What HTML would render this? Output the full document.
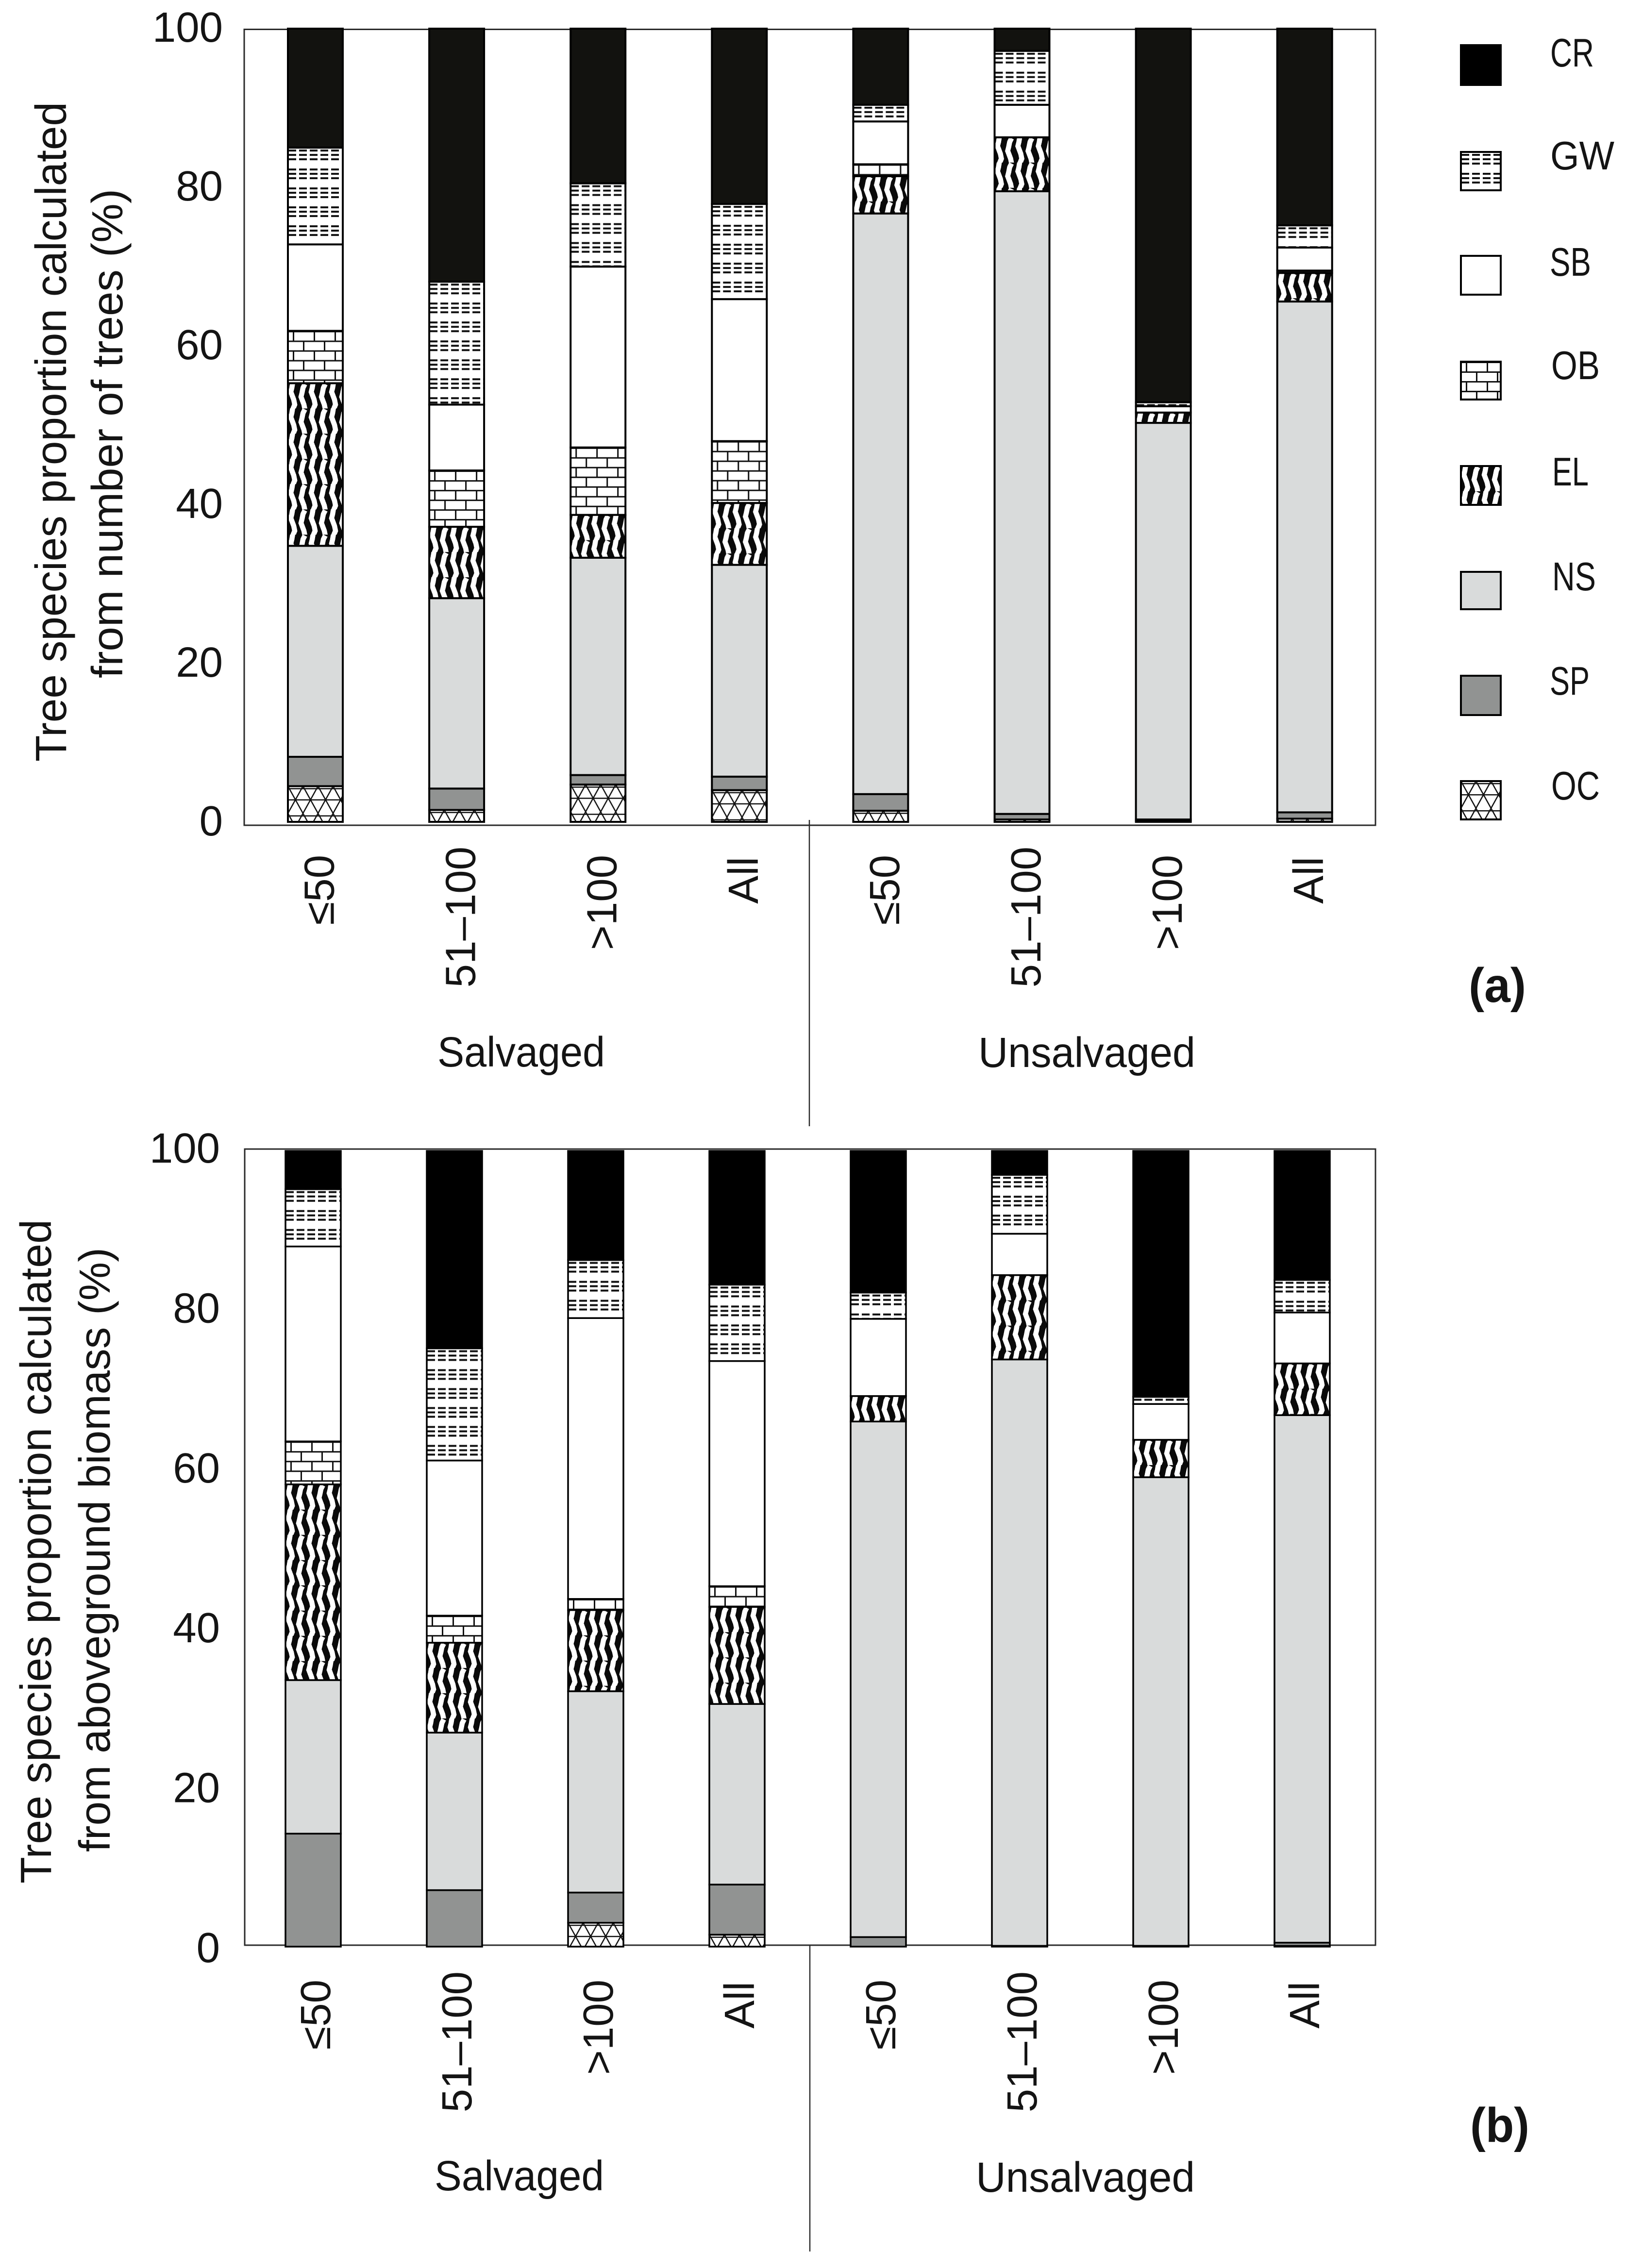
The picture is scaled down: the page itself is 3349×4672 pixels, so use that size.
<!DOCTYPE html>
<html lang="en">
<head>
<meta charset="utf-8">
<title>Tree species proportion charts</title>
<style>
  html, body { margin: 0; padding: 0; background: #fff; }
  svg { display: block; }
  text { font-family: "Liberation Sans", sans-serif; fill: #141414; }
</style>
</head>
<body>
<svg id="figure" xmlns="http://www.w3.org/2000/svg" width="3349" height="4672" viewBox="0 0 3349 4672">
  <defs>
    <pattern id="pat-gw" patternUnits="userSpaceOnUse" width="22" height="39">
      <rect width="22" height="39" fill="#fff"/>
      <rect x="1" y="4" width="16" height="4" fill="#111"/>
      <rect x="1" y="13" width="16" height="4" fill="#111"/>
      <rect x="1" y="22" width="16" height="4" fill="#111"/>
    </pattern>
    <pattern id="pat-ob" patternUnits="userSpaceOnUse" width="43" height="40">
      <rect width="43" height="40" fill="#fff"/>
      <rect x="0" y="0" width="43" height="3" fill="#111"/>
      <rect x="0" y="20" width="43" height="3" fill="#111"/>
      <rect x="10" y="0" width="3" height="20" fill="#111"/>
      <rect x="31" y="20" width="3" height="20" fill="#111"/>
    </pattern>
    <pattern id="pat-el" patternUnits="userSpaceOnUse" width="42" height="52">
      <rect width="42" height="52" fill="#0a0a0a"/>
      <polyline points="10,-2 8,10 6,18 9,26 12,34 14,44 10,54" fill="none" stroke="#fff" stroke-width="10.5" shape-rendering="crispEdges"/>
      <polyline points="35,2 31,10 29,20 27,28 30,36 33,44 35,54" fill="none" stroke="#fff" stroke-width="10.5" shape-rendering="crispEdges"/>
    </pattern>
    <pattern id="pat-oc" patternUnits="userSpaceOnUse" width="31" height="56">
      <rect width="31" height="56" fill="#fff"/>
      <path d="M0,0 L15.5,28 L31,0 M0,56 L15.5,28 L31,56" fill="none" stroke="#111" stroke-width="2.5"/>
      <rect x="0" y="4" width="31" height="2.5" fill="#111"/>
      <rect x="0" y="27" width="31" height="2.5" fill="#111"/>
    </pattern>
  </defs>

  <rect width="3349" height="4672" fill="#ffffff"/>

  <g id="panel-a">
    <rect x="503" y="60.5" width="2330" height="1639.5" fill="none" stroke="#2a2a2a" stroke-width="3"/>
    <line x1="1667" y1="1689" x2="1667" y2="2320" stroke="#2a2a2a" stroke-width="2.5"/>
    <text transform="translate(136 1569) rotate(-90)" font-size="90" textLength="1359" lengthAdjust="spacingAndGlyphs">Tree species proportion calculated</text>
    <text transform="translate(252 1397) rotate(-90)" font-size="90" textLength="1008" lengthAdjust="spacingAndGlyphs">from number of trees (%)</text>
    <text x="901" y="2197" font-size="87" textLength="345" lengthAdjust="spacingAndGlyphs">Salvaged</text>
    <text x="2015" y="2198" font-size="87" textLength="447" lengthAdjust="spacingAndGlyphs">Unsalvaged</text>
    <text x="3025" y="2064" font-size="100" font-weight="700" textLength="118" lengthAdjust="spacingAndGlyphs">(a)</text>
  </g>

  <g id="panel-b">
    <rect x="504" y="2367" width="2329" height="1640" fill="none" stroke="#2a2a2a" stroke-width="3"/>
    <line x1="1668" y1="4007" x2="1668" y2="4638" stroke="#2a2a2a" stroke-width="2.5"/>
    <text transform="translate(105 3880) rotate(-90)" font-size="90" textLength="1368" lengthAdjust="spacingAndGlyphs">Tree species proportion calculated</text>
    <text transform="translate(226 3815) rotate(-90)" font-size="90" textLength="1245" lengthAdjust="spacingAndGlyphs">from aboveground biomass (%)</text>
    <text x="895" y="4512" font-size="87" textLength="349" lengthAdjust="spacingAndGlyphs">Salvaged</text>
    <text x="2010" y="4515" font-size="87" textLength="451" lengthAdjust="spacingAndGlyphs">Unsalvaged</text>
    <text x="3028" y="4412" font-size="100" font-weight="700" textLength="122" lengthAdjust="spacingAndGlyphs">(b)</text>
  </g>

  <g id="legend"></g>
</svg>

<script>
// Shared categories and tick labels
const categories = ["≤50", "51–100", ">100", "All", "≤50", "51–100", ">100", "All"];
const yTicks = [0, 20, 40, 60, 80, 100];
const speciesOrder = ["OC", "SP", "NS", "EL", "OB", "SB", "GW", "CR"];

// Panel (a): share of number of trees (%), bottom to top of stack
const treesOC = [4.5, 1.5, 4.7, 4.0, 1.4, 0.3, 0.1, 0.4];
const treesSP = [3.7, 2.7, 1.2, 1.7, 2.1, 0.7, 0.2, 0.8];
const treesNS = [26.6, 24.0, 27.4, 26.7, 73.2, 78.5, 50.0, 64.4];
const treesEL = [20.5, 9.0, 5.4, 7.8, 4.7, 6.8, 1.3, 3.6];
const treesOB = [6.6, 7.1, 8.5, 7.8, 1.5, 0, 0, 0.3];
const treesSB = [10.9, 8.3, 22.8, 17.9, 5.4, 4.1, 0.8, 2.9];
const treesGW = [12.2, 15.5, 10.5, 12.0, 2.1, 6.8, 0.5, 2.8];
const treesCR = [15.0, 31.9, 19.5, 22.1, 9.6, 2.8, 47.1, 24.8];

// Panel (b): share of aboveground biomass (%), bottom to top of stack
const biomassOC = [0, 0, 3.0, 1.5, 0, 0, 0, 0.1];
const biomassSP = [14.2, 7.1, 3.8, 6.3, 1.2, 0.1, 0.1, 0.4];
const biomassNS = [19.3, 19.8, 25.3, 22.7, 64.8, 73.7, 58.9, 66.3];
const biomassEL = [24.6, 11.3, 10.2, 12.2, 3.2, 10.6, 4.7, 6.5];
const biomassOB = [5.4, 3.4, 1.4, 2.6, 0, 0, 0, 0];
const biomassSB = [24.5, 19.5, 35.3, 28.3, 9.7, 5.2, 4.5, 6.4];
const biomassGW = [7.2, 14.1, 7.3, 9.6, 3.3, 7.4, 0.9, 4.1];
const biomassCR = [4.8, 24.8, 13.7, 16.8, 17.8, 3.0, 30.9, 16.2];

// Legend order, top to bottom
const legendOrder = ["CR", "GW", "SB", "OB", "EL", "NS", "SP", "OC"];

(function () {
  const NS_URI = "http://www.w3.org/2000/svg";
  const fills = {
    OC: "url(#pat-oc)", SP: "#919392", NS: "#d9dbdb", EL: "url(#pat-el)",
    OB: "url(#pat-ob)", SB: "#ffffff", GW: "url(#pat-gw)", CR: "#12120f"
  };
  const labelTopShift = { "≤50": 0, "51–100": -17, ">100": 0, "All": 4 };

  function make(tag, attrs, parent) {
    const node = document.createElementNS(NS_URI, tag);
    for (const key in attrs) node.setAttribute(key, attrs[key]);
    parent.appendChild(node);
    return node;
  }

  function drawPanel(parent, series, cfg) {
    const xBand = function (i) { return cfg.firstCenter + i * cfg.pitch; };
    const yScale = function (v) { return cfg.barBase - v * cfg.barUnit; };
    const yTickCenter = function (v) { return cfg.tickTop + (100 - v) * cfg.tickUnit; };

    yTicks.forEach(function (t) {
      const el = make("text", {
        x: cfg.tickRight, y: yTickCenter(t) + 30, "font-size": 87, "text-anchor": "end"
      }, parent);
      el.textContent = String(t);
      
      
    });

    categories.forEach(function (label, i) {
      const cx = xBand(i);
      let cumulative = 0;
      speciesOrder.forEach(function (sp) {
        const value = series[sp][i];
        const yBottom = yScale(cumulative);
        cumulative += value;
        const yTop = yScale(cumulative);
        if (value <= 0) return;
        const fill = sp === "CR" ? cfg.crFill : fills[sp];
        const el = make("rect", {
          x: 0, y: 0, width: cfg.barWidth, height: yBottom - yTop,
          transform: "translate(" + (cx - cfg.barWidth / 2) + " " + yTop + ")",
          fill: fill, stroke: "#000", "stroke-width": cfg.stroke
        }, parent);
        
        
      });

      const tick = make("text", {
        transform: "translate(" + (cx + cfg.labelOffset) + " " + (cfg.labelTop + labelTopShift[label]) + ") rotate(-90)",
        "font-size": 87, "text-anchor": "end"
      }, parent);
      tick.textContent = label;
      
      
    });
  }

  drawPanel(document.getElementById("panel-a"), {
    OC: treesOC, SP: treesSP, NS: treesNS, EL: treesEL,
    OB: treesOB, SB: treesSB, GW: treesGW, CR: treesCR
  }, {
    firstCenter: 649.5, pitch: 291.1, barWidth: 113, barBase: 1693, barUnit: 16.34,
    stroke: 4, crFill: "#12120f", tickRight: 459, tickTop: 56, tickUnit: 16.35,
    labelOffset: 38, labelTop: 1761
  });

  drawPanel(document.getElementById("panel-b"), {
    OC: biomassOC, SP: biomassSP, NS: biomassNS, EL: biomassEL,
    OB: biomassOB, SB: biomassSB, GW: biomassGW, CR: biomassCR
  }, {
    firstCenter: 645, pitch: 291, barWidth: 114, barBase: 4010, barUnit: 16.39,
    stroke: 3.5, crFill: "#000", tickRight: 453, tickTop: 2365, tickUnit: 16.47,
    labelOffset: 35, labelTop: 4078
  });

  // Legend
  const legend = document.getElementById("legend");
  const swatchTop = [91, 311, 525, 743, 958, 1176, 1390, 1607];
  const swatchHeight = [86, 83, 84, 82, 84, 81, 85, 83];
  const labelBase = [137, 349, 568, 781, 1000, 1216, 1431, 1647];
  const labelX = [3193, 3193, 3192, 3195, 3197, 3197, 3192, 3195];
  const labelW = [90, 132, 85, 100, 75, 90, 82, 100];
  legendOrder.forEach(function (sp, i) {
    const swatch = make("rect", {
      x: 0, y: 0, width: 82, height: swatchHeight[i] - 4,
      transform: "translate(3009 " + (swatchTop[i] + 2) + ")",
      fill: sp === "CR" ? "#000" : fills[sp], stroke: "#000", "stroke-width": 4
    }, legend);
    
    
    const label = make("text", {
      x: labelX[i], y: labelBase[i], "font-size": 83,
      textLength: labelW[i], lengthAdjust: "spacingAndGlyphs"
    }, legend);
    label.textContent = sp;
    
    
  });
})();
</script>
</body>
</html>
